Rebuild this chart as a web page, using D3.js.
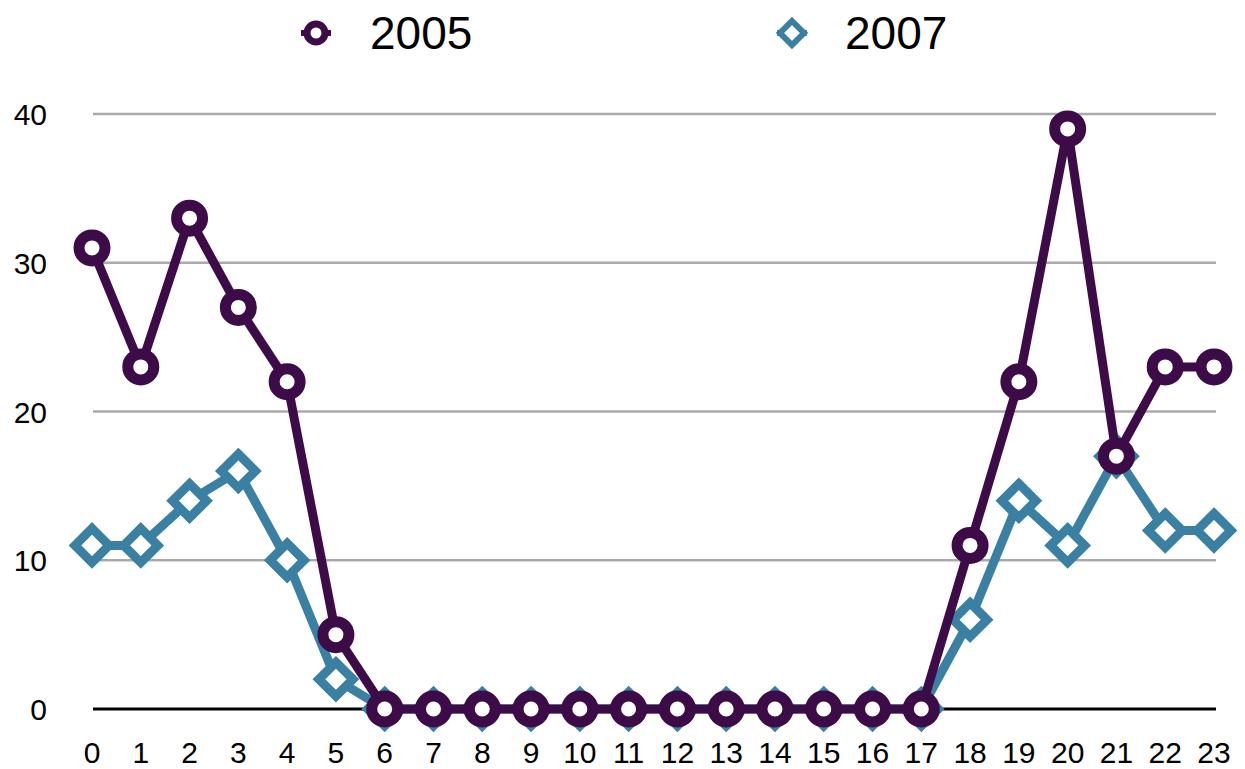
<!DOCTYPE html>
<html>
<head>
<meta charset="utf-8">
<script src="https://cdn.jsdelivr.net/npm/d3@7"></script>
<style>
  body { margin: 0; background: #fff; }
  text { font-family: "Liberation Sans", Arial, sans-serif; }
</style>
</head>
<body>
<div id="chart"></div>
<script>
const hours = d3.range(0, 24);
const values2005 = [31, 23, 33, 27, 22, 5, 0, 0, 0, 0, 0, 0, 0, 0, 0, 0, 0, 0, 11, 22, 39, 17, 23, 23];
const values2007 = [11, 11, 14, 16, 10, 2, 0, 0, 0, 0, 0, 0, 0, 0, 0, 0, 0, 0, 6, 14, 11, 17, 12, 12];
const yTicks = [0, 10, 20, 30, 40];

const width = 1245;
const height = 769;
const purple = '#3d0b48';
const blue = '#3a80a3';

const svg = d3.select('#chart')
  .append('svg')
  .attr('width', width)
  .attr('height', height);

const x = d3.scaleLinear().domain([0, 23]).range([92, 1214]);
const y = d3.scaleLinear().domain([0, 40]).range([709, 114]);

// gridlines
svg.append('g')
  .selectAll('line')
  .data(yTicks.filter((d) => d > 0))
  .join('line')
  .attr('x1', 93)
  .attr('x2', 1216)
  .attr('y1', (d) => y(d))
  .attr('y2', (d) => y(d))
  .attr('stroke', '#aaaaaa')
  .attr('stroke-width', 2.5);

// baseline
svg.append('line')
  .attr('x1', 93)
  .attr('x2', 1216)
  .attr('y1', y(0))
  .attr('y2', y(0))
  .attr('stroke', '#000')
  .attr('stroke-width', 3);

// y labels
svg.append('g')
  .selectAll('text')
  .data(yTicks)
  .join('text')
  .attr('x', 47)
  .attr('y', (d) => y(d) + 11)
  .attr('text-anchor', 'end')
  .attr('font-size', 30)
  .text((d) => d);

// x labels
svg.append('g')
  .selectAll('text')
  .data(hours)
  .join('text')
  .attr('x', (d) => x(d))
  .attr('y', 763)
  .attr('text-anchor', 'middle')
  .attr('font-size', 30)
  .text((d) => d);

const line = d3.line()
  .x((d, i) => x(hours[i]))
  .y((d) => y(d));

const diamond = (r) => `M0,${-r}L${r},0L0,${r}L${-r},0Z`;

// 2007 series
svg.append('path')
  .datum(values2007)
  .attr('d', line)
  .attr('fill', 'none')
  .attr('stroke', blue)
  .attr('stroke-width', 9)
  .attr('stroke-linejoin', 'round');

svg.append('g')
  .selectAll('path')
  .data(values2007)
  .join('path')
  .attr('d', diamond(17))
  .attr('transform', (d, i) => `translate(${x(hours[i])},${y(d)})`)
  .attr('fill', '#fff')
  .attr('stroke', blue)
  .attr('stroke-width', 9);

// 2005 series
svg.append('path')
  .datum(values2005)
  .attr('d', line)
  .attr('fill', 'none')
  .attr('stroke', purple)
  .attr('stroke-width', 9)
  .attr('stroke-linejoin', 'round');

svg.append('g')
  .selectAll('circle')
  .data(values2005)
  .join('circle')
  .attr('cx', (d, i) => x(hours[i]))
  .attr('cy', (d) => y(d))
  .attr('r', 13)
  .attr('fill', '#fff')
  .attr('stroke', purple)
  .attr('stroke-width', 11);

// legend
const legend = [
  { name: '2005', color: purple, cx: 316, tx: 370 },
  { name: '2007', color: blue, cx: 792, tx: 845 }
];

legend.forEach((item) => {
  const g = svg.append('g');
  g.append('line')
    .attr('x1', item.cx - 15)
    .attr('x2', item.cx + 15)
    .attr('y1', 33)
    .attr('y2', 33)
    .attr('stroke', item.color)
    .attr('stroke-width', 6);
  if (item.name === '2005') {
    g.append('circle')
      .attr('cx', item.cx)
      .attr('cy', 33)
      .attr('r', 9)
      .attr('fill', '#fff')
      .attr('stroke', item.color)
      .attr('stroke-width', 7);
  } else {
    g.append('path')
      .attr('d', diamond(12))
      .attr('transform', `translate(${item.cx},33)`)
      .attr('fill', '#fff')
      .attr('stroke', item.color)
      .attr('stroke-width', 6);
  }
  g.append('text')
    .attr('x', item.tx)
    .attr('y', 49)
    .attr('font-size', 46)
    .text(item.name);
});
</script>
</body>
</html>
